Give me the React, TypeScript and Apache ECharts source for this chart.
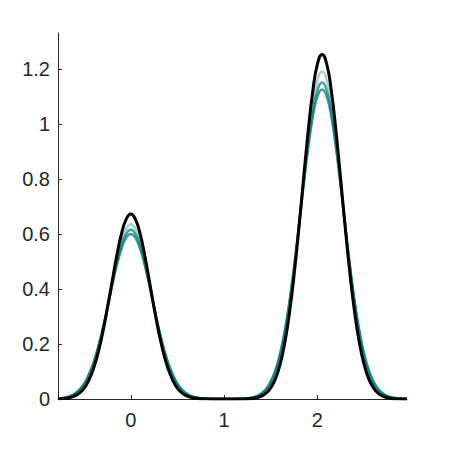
import React, { useEffect, useRef } from "react";
import * as echarts from "echarts";

const xValues = [
  -0.78, -0.75, -0.7, -0.65, -0.6, -0.55, -0.5, -0.45, -0.4, -0.35, -0.3, -0.25, -0.2, -0.15, -0.1, -0.05,
  0, 0.05, 0.1, 0.15, 0.2, 0.25, 0.3, 0.35, 0.4, 0.45, 0.5, 0.55, 0.6, 0.65, 0.7, 0.75, 0.8, 0.85, 0.9, 0.95,
  1.0, 1.05, 1.1, 1.15, 1.2, 1.25, 1.3, 1.35, 1.4, 1.45, 1.5, 1.55, 1.6, 1.65, 1.7, 1.75, 1.8, 1.85, 1.9, 1.95,
  2.0, 2.05, 2.1, 2.15, 2.2, 2.25, 2.3, 2.35, 2.4, 2.45, 2.5, 2.55, 2.6, 2.65, 2.7, 2.75, 2.8, 2.85, 2.9, 2.95, 2.96,
];

const blackCurve = [
  0.0007, 0.0011, 0.0026, 0.0056, 0.011, 0.022, 0.039, 0.068, 0.11, 0.168, 0.242, 0.331, 0.427, 0.521, 0.6, 0.653,
  0.672, 0.653, 0.6, 0.521, 0.427, 0.331, 0.242, 0.168, 0.11, 0.068, 0.039, 0.022, 0.011, 0.0056, 0.0026, 0.0011, 0.0005, 0.0002, 0.0001, 0,
  0, 0, 0, 0.0001, 0.0003, 0.0009, 0.0021, 0.0048, 0.0104, 0.021, 0.041, 0.073, 0.126, 0.204, 0.312, 0.451, 0.616, 0.796, 0.97, 1.118,
  1.217, 1.252, 1.217, 1.118, 0.97, 0.796, 0.616, 0.451, 0.312, 0.204, 0.126, 0.073, 0.041, 0.021, 0.0104, 0.0048, 0.0021, 0.0009, 0.0003, 0.0001, 0.0001,
];

const tealCurveA = [
  0.0019, 0.0029, 0.0058, 0.011, 0.02, 0.034, 0.056, 0.089, 0.132, 0.189, 0.256, 0.332, 0.411, 0.485, 0.546, 0.586,
  0.6, 0.586, 0.546, 0.485, 0.411, 0.332, 0.256, 0.189, 0.132, 0.089, 0.056, 0.034, 0.02, 0.011, 0.0058, 0.0029, 0.0014, 0.0006, 0.0003, 0.0001,
  0.0001, 0.0001, 0.0002, 0.0005, 0.0012, 0.0027, 0.0055, 0.011, 0.021, 0.037, 0.064, 0.106, 0.166, 0.248, 0.353, 0.48, 0.623, 0.771, 0.909, 1.024,
  1.099, 1.125, 1.099, 1.024, 0.909, 0.771, 0.623, 0.48, 0.353, 0.248, 0.166, 0.106, 0.064, 0.037, 0.021, 0.011, 0.0055, 0.0027, 0.0012, 0.0005, 0.0004,
];

const tealCurveB = [
  0.0016, 0.0025, 0.0051, 0.0098, 0.018, 0.032, 0.053, 0.085, 0.128, 0.185, 0.255, 0.334, 0.416, 0.493, 0.558, 0.6,
  0.615, 0.6, 0.558, 0.493, 0.416, 0.334, 0.255, 0.185, 0.128, 0.085, 0.053, 0.032, 0.018, 0.0098, 0.0051, 0.0025, 0.0012, 0.0005, 0.0002, 0.0001,
  0.0001, 0.0001, 0.0002, 0.0004, 0.001, 0.0022, 0.0047, 0.0095, 0.018, 0.034, 0.059, 0.099, 0.158, 0.24, 0.347, 0.476, 0.624, 0.777, 0.923, 1.043,
  1.122, 1.15, 1.122, 1.043, 0.923, 0.777, 0.624, 0.476, 0.347, 0.24, 0.158, 0.099, 0.059, 0.034, 0.018, 0.0095, 0.0047, 0.0022, 0.001, 0.0004, 0.0004,
];

const tealCurveC = [
  0.0012, 0.0019, 0.004, 0.0081, 0.015, 0.028, 0.048, 0.078, 0.122, 0.179, 0.251, 0.333, 0.42, 0.503, 0.573, 0.619,
  0.635, 0.619, 0.573, 0.503, 0.42, 0.333, 0.251, 0.179, 0.122, 0.078, 0.048, 0.028, 0.015, 0.0081, 0.004, 0.0019, 0.0009, 0.0004, 0.0001, 0,
  0, 0, 0.0001, 0.0003, 0.0007, 0.0016, 0.0036, 0.0075, 0.015, 0.029, 0.052, 0.09, 0.147, 0.228, 0.336, 0.47, 0.624, 0.787, 0.943, 1.073,
  1.16, 1.19, 1.16, 1.073, 0.943, 0.787, 0.624, 0.47, 0.336, 0.228, 0.147, 0.09, 0.052, 0.029, 0.015, 0.0075, 0.0036, 0.0016, 0.0007, 0.0003, 0.0002,
];

const xTicks = [0, 1, 2];
const yTicks = [0, 0.2, 0.4, 0.6, 0.8, 1, 1.2];

const pairs = (ys: number[]) => xValues.map((x, i) => [x, ys[i]]);

export default function App() {
  const ref = useRef<HTMLDivElement>(null);
  useEffect(() => {
    if (!ref.current) return;
    const chart = echarts.init(ref.current, null, { renderer: "svg" });
    const axisColor = "#262626";
    const font = "Liberation Sans, Arial, sans-serif";
    const tealSeries = (name: string, ys: number[], opacity: number) => ({
      name,
      type: "line",
      data: pairs(ys),
      smooth: true,
      showSymbol: false,
      lineStyle: { color: "#007a7a", width: 2.5, opacity },
      z: 2,
    });
    chart.setOption({
      animation: false,
      grid: { left: 58, right: 43, top: 33, bottom: 51, containLabel: false },
      xAxis: {
        type: "value",
        min: -0.78,
        max: 2.96,
        axisLine: { show: true, onZero: false, lineStyle: { color: axisColor, width: 1 } },
        axisTick: { show: true, inside: true, length: 4, customValues: xTicks, lineStyle: { color: axisColor } },
        axisLabel: {
          customValues: xTicks,
          color: axisColor,
          fontSize: 20,
          fontFamily: font,
          margin: 11,
        },
        splitLine: { show: false },
      },
      yAxis: {
        type: "value",
        min: 0,
        max: 1.33,
        axisLine: { show: true, onZero: false, lineStyle: { color: axisColor, width: 1 } },
        axisTick: { show: true, inside: true, length: 4, customValues: yTicks, lineStyle: { color: axisColor } },
        axisLabel: {
          customValues: yTicks,
          color: axisColor,
          fontSize: 20,
          fontFamily: font,
          margin: 8,
        },
        splitLine: { show: false },
      },
      series: [
        tealSeries("sampleA", tealCurveA, 0.75),
        tealSeries("sampleB", tealCurveB, 0.7),
        tealSeries("sampleC", tealCurveC, 0.35),
        {
          name: "true",
          type: "line",
          data: pairs(blackCurve),
          smooth: true,
          showSymbol: false,
          lineStyle: { color: "#000000", width: 3 },
          z: 3,
        },
      ],
    });
    return () => chart.dispose();
  }, []);
  return <div ref={ref} style={{ width: 450, height: 450, position: "absolute", left: 0, top: 0 }} />;
}
